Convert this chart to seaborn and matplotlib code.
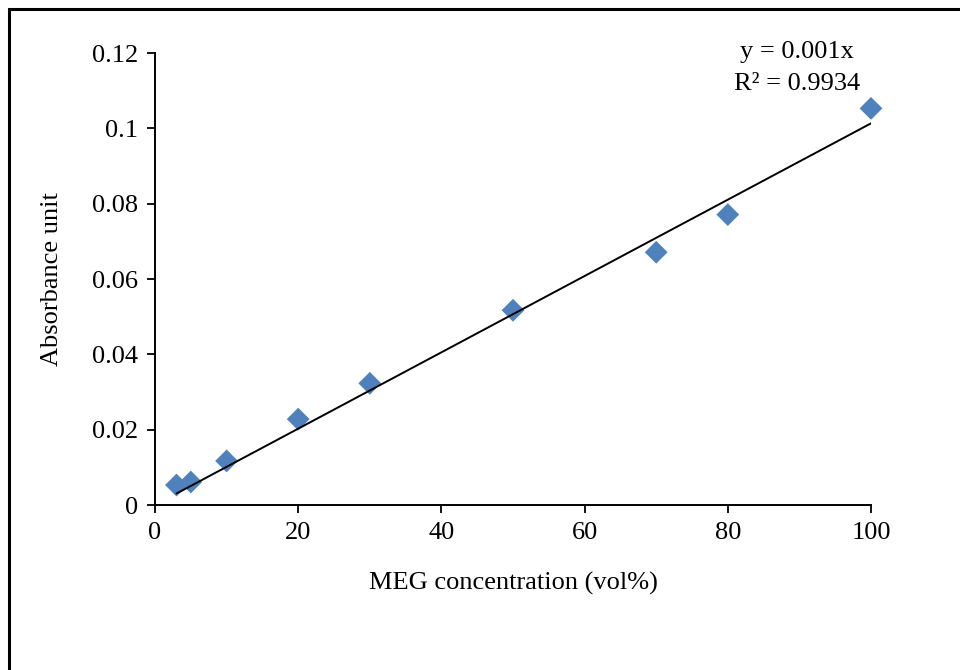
import numpy as np
import pandas as pd
import matplotlib
matplotlib.use("Agg")
import matplotlib.pyplot as plt
from matplotlib.patches import Rectangle
import seaborn as sns

# Data
concentration = [3, 5, 10, 20, 30, 50, 70, 80, 100]
absorbance = [0.0053, 0.0061, 0.0117, 0.0228, 0.0323, 0.0517, 0.0671, 0.0771, 0.1053]
x_ticks = [0, 20, 40, 60, 80, 100]
y_ticks = [0, 0.02, 0.04, 0.06, 0.08, 0.1, 0.12]
y_tick_labels = ["0", "0.02", "0.04", "0.06", "0.08", "0.1", "0.12"]
equation_text = "y = 0.001x\nR² = 0.9934"

sns.set_style("ticks")
plt.rcParams['font.family'] = ['Liberation Serif', 'DejaVu Serif']

df = pd.DataFrame({"x": concentration, "y": absorbance})

fig = plt.figure(figsize=(9.6, 6.7), dpi=100)
ax = fig.add_axes([155/960, 1 - 505/670, (871-155)/960, (505-53)/670])

# Trendline through origin (least squares)
xa = np.array(concentration, dtype=float)
ya = np.array(absorbance, dtype=float)
slope = (xa * ya).sum() / (xa * xa).sum()
trend = pd.DataFrame({"x": [xa.min(), xa.max()]})
trend["y"] = slope * trend["x"]

sns.scatterplot(data=df, x="x", y="y", marker="D", s=135, color="#4F81BD",
                edgecolor="none", ax=ax, zorder=2, clip_on=False)
sns.lineplot(data=trend, x="x", y="y", color="black", linewidth=1.4, ax=ax, zorder=3)

ax.set_xlim(0, 100)
ax.set_ylim(0, 0.12)
ax.set_xticks(x_ticks)
ax.set_yticks(y_ticks)
ax.set_yticklabels(y_tick_labels)
ax.tick_params(axis="both", direction="out", length=6, width=1.3, labelsize=19,
               color="black", labelcolor="black")
ax.tick_params(axis="y", pad=6)
ax.tick_params(axis="x", pad=6)
for s in ["top", "right"]:
    ax.spines[s].set_visible(False)
for s in ["left", "bottom"]:
    ax.spines[s].set_color("black")
    ax.spines[s].set_linewidth(1.4)
ax.grid(False)

ax.set_xlabel("MEG concentration (vol%)", fontsize=19, color="black", labelpad=20)
ax.set_ylabel("Absorbance unit", fontsize=19, color="black", labelpad=21)

ax.text(89.7, 0.1160, equation_text, ha="center", va="center", fontsize=19,
        color="black", linespacing=1.55)

# outer frame (extends beyond right and bottom edges)
fig.patches.append(Rectangle((9/960, -0.1), 1.2, 1 - 9/670 + 0.1, transform=fig.transFigure,
                             fill=False, edgecolor="black", linewidth=2.2))

fig.savefig("out.png", dpi=100, facecolor="white")
